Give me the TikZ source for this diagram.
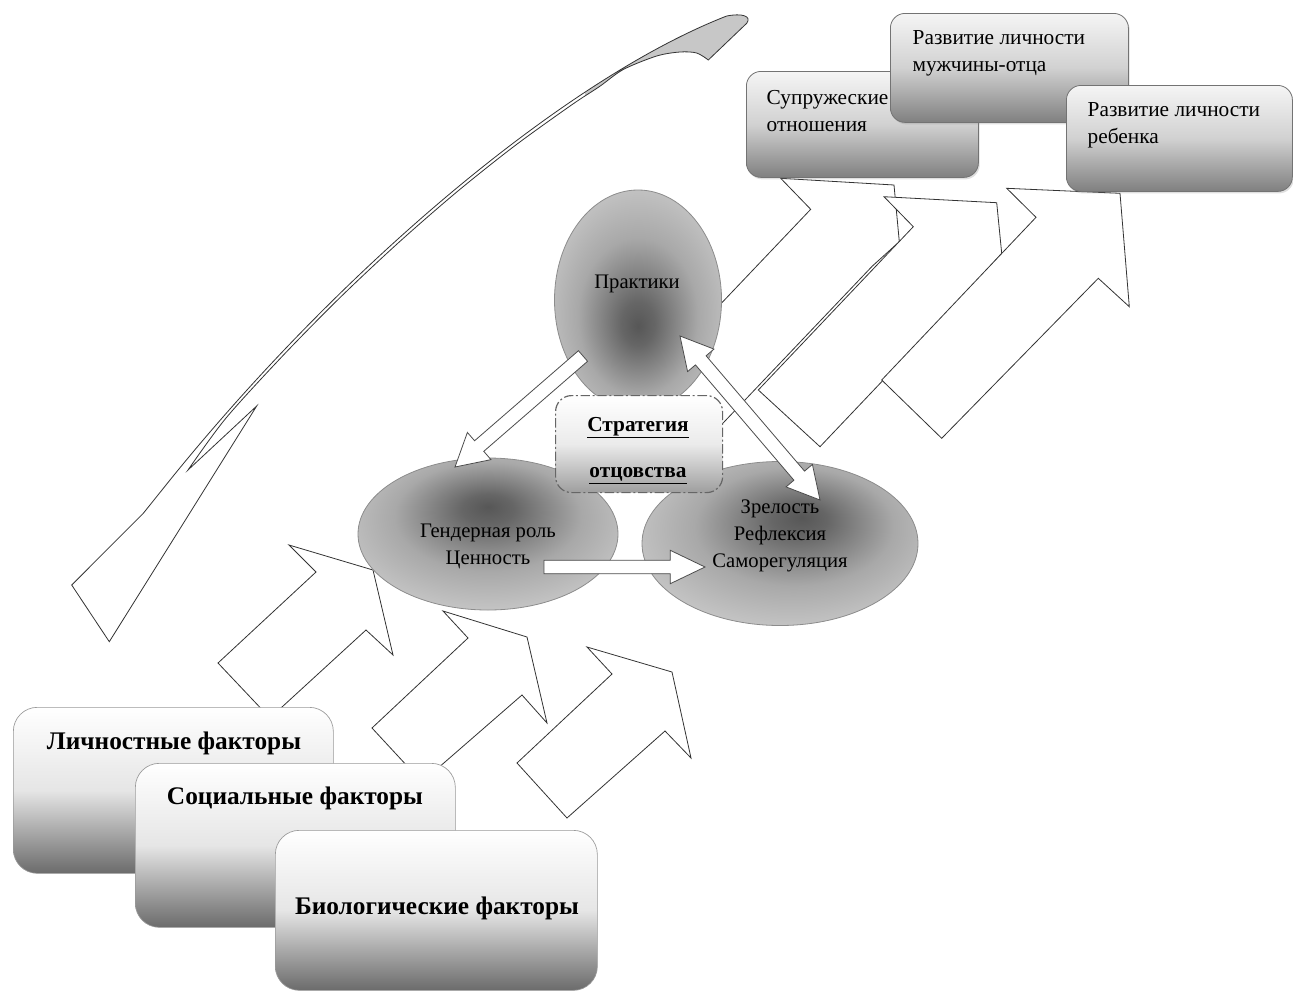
\documentclass[tikz,border=0pt]{standalone}
\usepackage{fontspec}
\setmainfont{Liberation Serif}
\usetikzlibrary{calc,shapes.geometric,shadows}
\pgfdeclareradialshading{ellshP}{\pgfpoint{0bp}{-6bp}}{color(0bp)=(black!66); color(5bp)=(black!60); color(18bp)=(black!34); color(30bp)=(black!22); color(50bp)=(black!19)}
\pgfdeclareradialshading{ellshG}{\pgfpoint{0bp}{9bp}}{color(0bp)=(black!66); color(5bp)=(black!60); color(18bp)=(black!34); color(30bp)=(black!22); color(50bp)=(black!19)}
\pgfdeclareradialshading{ellshZ}{\pgfpoint{4bp}{8bp}}{color(0bp)=(black!66); color(5bp)=(black!60); color(18bp)=(black!34); color(30bp)=(black!22); color(50bp)=(black!19)}
\newcommand\blkarrow[5]{%
  \path ($(#2)!#5!(#1)$) coordinate (ba);
  \draw[smallarr] ($(#1)!#3!90:(#2)$) -- ($(ba)!#3!90:(#2)$) -- ($(ba)!#4!90:(#2)$) -- (#2)
    -- ($(ba)!#4!-90:(#2)$) -- ($(ba)!#3!-90:(#2)$) -- ($(#1)!#3!-90:(#2)$) -- cycle;}
\newcommand\dblarrow[5]{%
  \path ($(#2)!#5!(#1)$) coordinate (bb);
  \path ($(#1)!#5!(#2)$) coordinate (bc);
  \draw[smallarr] (#1) -- ($(bc)!#4!90:(#2)$) -- ($(bc)!#3!90:(#2)$) -- ($(bb)!#3!90:(#2)$)
    -- ($(bb)!#4!90:(#2)$) -- (#2) -- ($(bb)!#4!-90:(#2)$) -- ($(bb)!#3!-90:(#2)$)
    -- ($(bc)!#3!-90:(#2)$) -- ($(bc)!#4!-90:(#2)$) -- cycle;}
\begin{document}
\begin{tikzpicture}[x=0.75pt,y=-0.75pt,
  bigarrow/.style={draw=black!80, fill=white, line width=0.6pt, line join=miter},
  smallarr/.style={draw=black!70, fill=white, line width=0.6pt, line join=miter},
  fbox/.style={rectangle, rounded corners=18pt, draw=black!40, line width=0.5pt,
    top color=white, bottom color=black!58, middle color=black!10, inner sep=0pt, anchor=north west},
  tbox/.style={rectangle, rounded corners=11pt, draw=black!55, line width=0.6pt,
    top color=black!4, bottom color=black!50, middle color=black!18, inner sep=0pt, anchor=north west,
    drop shadow={shadow xshift=1pt, shadow yshift=-1.5pt, opacity=0.25}},
  ell/.style={ellipse, draw=black!45, line width=0.6pt, inner sep=0pt},
  ftext/.style={font=\fontsize{19}{22}\selectfont\bfseries},
  etext/.style={font=\fontsize{15.5}{20.25}\selectfont, align=center},
  ttext/.style={font=\fontsize{16}{20.25}\selectfont, align=left, anchor=west}
]
\useasboundingbox (0,0) rectangle (1293,993);

% curved arrow
\path[save path=\crescent] (71.7,585) -- (143.3,513.3) -- (170,480)
  .. controls (344.8,263.6) and (567.6,78) .. (726.7,16)
  .. controls (742,13) and (752,16) .. (746.7,23.3) -- (708.3,60)
  -- plot[smooth] coordinates {(708.3,60) (696.7,53) (680,52) (656.7,56) (623.3,69.5) (599.4,86.6) (571.5,105) (514.5,146) (456.4,192.3) (397.8,243.3) (339.4,298.2) (281.8,356.8) (225.8,418.3) (188,470)}
  -- (256.7,406) -- (109.3,641.7) -- cycle;
\fill[white, use path=\crescent];
\begin{scope}
  \clip (585,0) rectangle (800,140);
  \fill[black!22, use path=\crescent];
\end{scope}
\draw[black!80, line width=0.6pt, line join=miter, use path=\crescent];

% bottom big arrows
\draw[bigarrow] (289,545) -- (373,570) -- (393,655) -- (366,630) -- (270,718) -- (218,663) -- (316,572) -- cycle;
\draw[bigarrow] (443,611) -- (527,637) -- (547,723) -- (522,695) -- (422,782) -- (372,728) -- (468,638) -- cycle;
\draw[bigarrow] (587,647) -- (672,672) -- (691,758) -- (665,731) -- (567,818) -- (517,763) -- (612,674) -- cycle;

% top big arrows
\draw[bigarrow] (780.7,178.3) -- (894,185) -- (899.3,241.7) -- (872.4,266) -- (717.4,429) -- (655.7,372.3) -- (810.7,209.3) -- cycle;
\draw[bigarrow] (884,196.7) -- (996.7,202.7) -- (1001.7,253.3) -- (975,283.4) -- (820,446.7) -- (758.3,390) -- (913.3,226.7) -- cycle;
\draw[bigarrow] (1006.7,188.3) -- (1120,193.3) -- (1129.3,306.7) -- (1098.3,278.3) -- (941.7,438.3) -- (881.7,380) -- (1036,217.3) -- cycle;

% factor boxes
\node[fbox, minimum width=240pt, minimum height=124.5pt] (lich) at (13,707) {};
\node[fbox, minimum width=240pt, minimum height=123pt] (soc) at (135,763) {};
\node[fbox, minimum width=241.5pt, minimum height=120pt] (bio) at (275,830) {};
\node[ftext] (lichT) at (174,743) {Личностные факторы};
\node[ftext] (socT) at (295,798) {Социальные факторы};
\node[ftext] (bioT) at (437,908) {Биологические факторы};

% result boxes
\node[tbox, minimum width=174pt, minimum height=79.5pt] (sup) at (746,71) {};
\node[tbox, minimum width=178.5pt, minimum height=81.75pt] (man) at (890,13) {};
\node[tbox, minimum width=169.5pt, minimum height=79.5pt] (child) at (1066,85) {};
\node[ttext] (supT) at (762,111) {Супружеские\\отношения};
\node[ttext] (manT) at (908,53.5) {Развитие личности\\мужчины-отца};
\node[ttext] (childT) at (1083,125.5) {Развитие личности\\ребенка};

% ellipses
\node[ell, shading=ellshP, minimum width=125.25pt, minimum height=165pt] (prak) at (638,300) {};
\node[ell, shading=ellshG, minimum width=195pt, minimum height=114pt] (gend) at (488,534) {};
\node[ell, shading=ellshZ, minimum width=207pt, minimum height=123pt] (zrel) at (780,543.5) {};

% strategy box
\node[rectangle, rounded corners=12pt, draw=black!60, line width=0.9pt,
  dash pattern=on 7pt off 2pt on 1.5pt off 2pt, top color=white, bottom color=black!38, middle color=black!8,
  inner sep=0pt, anchor=north west, minimum width=125.25pt, minimum height=72.75pt] (strat) at (555,395) {};

% small arrows
\coordinate (pgS) at (583,356);
\coordinate (pgE) at (455,467);
\blkarrow{pgS}{pgE}{5.25pt}{13.5pt}{24pt}
\coordinate (dS) at (680,336);
\coordinate (dE) at (820,500);
\dblarrow{dS}{dE}{5.25pt}{13pt}{24pt}
\coordinate (hS) at (544,567);
\coordinate (hE) at (705,567);
\blkarrow{hS}{hE}{5pt}{12.5pt}{26pt}

% texts
\node[etext] (prakT) at (637,284) {Практики};
\node[etext] (gendT) at (488,546.5) {Гендерная роль\\Ценность};
\node[etext] (zrelT) at (780,536) {Зрелость\\Рефлексия\\Саморегуляция};
\node[font=\fontsize{16}{35}\selectfont\bfseries, align=center] (stratT) at (638,450.5) {\underline{Стратегия}\\\underline{отцовства}};
\end{tikzpicture}
\end{document}
